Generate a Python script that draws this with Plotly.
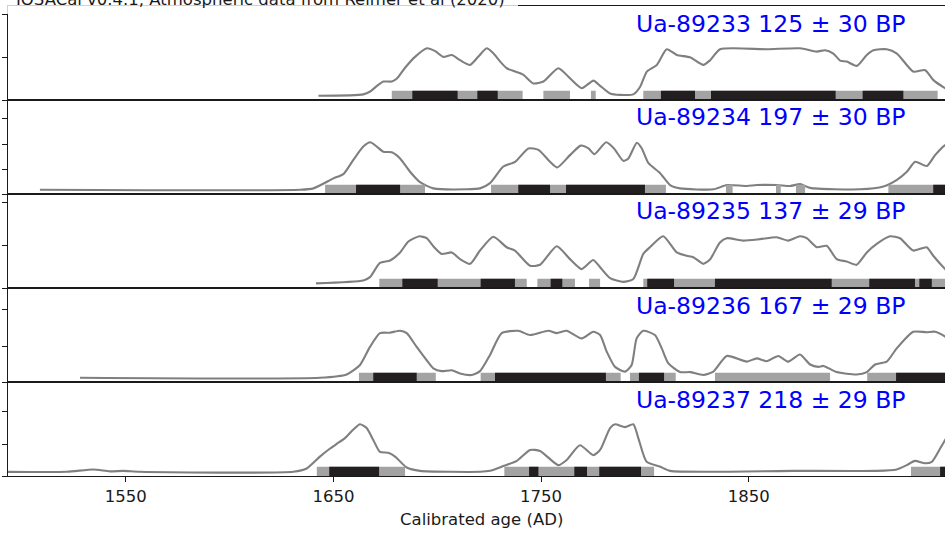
import plotly.graph_objects as go
from plotly.subplots import make_subplots

# ---------------- data ----------------
TITLE = "IOSACal v0.4.1, Atmospheric data from Reimer et al (2020)"
X_LABEL = "Calibrated age (AD)"
X_TICKS = [1550, 1650, 1750, 1850]

LABELS = [
    "Ua-89233 125 ± 30 BP",
    "Ua-89234 197 ± 30 BP",
    "Ua-89235 137 ± 29 BP",
    "Ua-89236 167 ± 29 BP",
    "Ua-89237 218 ± 29 BP",
]

# calibrated probability curves: (year AD, density as % of the peak)
S1_CURVE = [(1642.8, 0), (1664.4, 3), (1667.7, 9), (1671.0, 21), (1674.1, 30), (1678.1, 30),
            (1680.7, 37), (1684.5, 59), (1689.3, 82), (1695.0, 100), (1699.0, 94), (1702.9, 82),
            (1707.0, 86), (1711.0, 75), (1715.8, 65), (1719.7, 82), (1723.8, 100), (1726.9, 90),
            (1730.3, 72), (1733.5, 58), (1737.5, 51), (1741.5, 44), (1746.3, 26), (1751.1, 30),
            (1758.3, 58), (1763.9, 37), (1769.6, 16), (1775.2, 32), (1778.4, 21), (1783.2, 5),
            (1788.0, 2), (1794.4, 3), (1797.7, 19), (1800.9, 51), (1805.7, 65), (1810.5, 98),
            (1815.3, 86), (1821.7, 81), (1828.1, 65), (1831.4, 75), (1836.2, 98), (1858.7, 98),
            (1874.7, 100), (1882.7, 93), (1886.7, 96), (1890.7, 89), (1894.0, 74), (1897.2, 72),
            (1902.0, 63), (1906.8, 86), (1910.0, 96), (1916.4, 98), (1921.3, 89), (1929.2, 51),
            (1934.9, 54), (1938.9, 33), (1944.5, 16), (1949.0, 5)]
S2_CURVE = [(1508.7, 0), (1634.0, 0), (1640.4, 3), (1650.0, 24), (1654.8, 33), (1659.6, 63),
            (1664.4, 91), (1667.7, 100), (1670.9, 91), (1674.1, 80), (1678.1, 79), (1682.1, 66),
            (1686.9, 38), (1691.7, 16), (1698.1, 3), (1714.2, 1), (1720.6, 3), (1725.4, 14),
            (1731.8, 49), (1737.5, 59), (1743.9, 87), (1748.7, 84), (1754.3, 59), (1757.8, 47),
            (1763.9, 73), (1769.1, 93), (1772.8, 87), (1775.7, 75), (1781.3, 100), (1785.1, 87),
            (1789.6, 61), (1792.0, 66), (1796.1, 99), (1798.5, 87), (1801.7, 56), (1807.3, 35),
            (1812.1, 10), (1816.9, 3), (1833.0, 1), (1839.4, 10), (1849.0, 8), (1853.8, 10),
            (1863.5, 10), (1869.9, 8), (1874.7, 12), (1879.5, 4), (1903.6, 1), (1914.8, 7),
            (1921.3, 21), (1926.1, 38), (1930.1, 59), (1935.7, 50), (1939.7, 73), (1944.5, 94),
            (1949.0, 100)]
S3_CURVE = [(1641.6, 1), (1664.4, 7), (1667.6, 14), (1672.4, 44), (1677.3, 49), (1682.1, 66),
            (1686.1, 89), (1691.4, 100), (1694.9, 96), (1698.1, 79), (1702.1, 63), (1707.0, 66),
            (1711.0, 52), (1715.8, 42), (1720.6, 70), (1727.0, 99), (1733.4, 77), (1737.4, 70),
            (1744.7, 38), (1749.5, 40), (1757.5, 79), (1763.9, 52), (1769.5, 31), (1775.1, 50),
            (1778.4, 35), (1783.2, 12), (1789.6, 4), (1794.4, 10), (1799.2, 63), (1802.4, 77),
            (1808.8, 100), (1815.3, 66), (1820.1, 59), (1823.3, 56), (1828.1, 42), (1831.3, 51),
            (1836.1, 87), (1839.4, 96), (1847.3, 91), (1855.4, 94), (1863.4, 98), (1869.0, 91),
            (1874.6, 100), (1877.9, 96), (1882.7, 77), (1887.5, 80), (1892.3, 52), (1897.1, 47),
            (1901.9, 40), (1906.8, 66), (1911.6, 84), (1918.0, 100), (1922.8, 96), (1929.2, 70),
            (1935.6, 77), (1938.8, 59), (1944.5, 31), (1949.0, 12)]
S4_CURVE = [(1528.0, 0), (1643.5, 0), (1656.4, 7), (1662.8, 27), (1667.6, 65), (1672.4, 94),
            (1677.2, 95), (1682.1, 99), (1685.3, 94), (1690.1, 65), (1694.9, 37), (1698.1, 20),
            (1702.1, 14), (1707.0, 16), (1711.0, 9), (1716.6, 6), (1720.6, 14), (1725.4, 48),
            (1731.0, 94), (1739.0, 99), (1744.7, 90), (1753.5, 99), (1757.5, 94), (1762.3, 99),
            (1769.5, 83), (1775.1, 97), (1778.4, 90), (1781.6, 55), (1785.6, 23), (1790.4, 13),
            (1793.6, 27), (1796.0, 83), (1799.2, 99), (1804.8, 90), (1808.1, 62), (1811.2, 31),
            (1816.9, 12), (1821.7, 12), (1828.1, 6), (1832.9, 13), (1839.4, 46), (1849.0, 34),
            (1853.8, 41), (1858.6, 35), (1864.2, 46), (1869.0, 34), (1874.6, 49), (1879.5, 28),
            (1883.5, 23), (1885.9, 25), (1892.3, 12), (1901.9, 7), (1906.8, 12), (1910.8, 28),
            (1916.4, 34), (1921.2, 62), (1929.2, 97), (1935.6, 96), (1939.7, 97), (1944.5, 87),
            (1949.0, 72)]
S5_CURVE = [(1490.0, 0), (1521.6, 0), (1534.4, 5), (1542.4, 1), (1548.8, 2), (1556.9, 0),
            (1630.7, 0), (1637.1, 7), (1643.5, 32), (1648.4, 49), (1651.6, 59), (1655.6, 71),
            (1659.6, 89), (1662.8, 100), (1666.0, 92), (1669.2, 67), (1672.4, 42), (1676.4, 40),
            (1679.7, 32), (1685.3, 9), (1691.7, 2), (1720.6, 0), (1725.4, 2), (1731.8, 12),
            (1738.3, 23), (1744.7, 46), (1749.5, 44), (1758.3, 14), (1762.3, 25), (1768.7, 56),
            (1775.1, 35), (1778.4, 46), (1783.2, 92), (1785.6, 100), (1790.4, 94), (1794.4, 100),
            (1796.8, 71), (1800.8, 21), (1807.2, 11), (1812.1, 2), (1871.4, 2), (1911.6, 2),
            (1921.2, 5), (1926.0, 14), (1930.0, 23), (1934.8, 18), (1938.1, 21), (1942.1, 49),
            (1944.5, 67), (1949.0, 95)]

# 95 % (grey) and 68 % (black) probability ranges, AD
S1_CI95 = [(1678.1, 1741.1), (1751.1, 1763.9), (1774.0, 1776.3), (1799.2, 1940.9)]
S1_CI68 = [(1688.0, 1709.8), (1719.3, 1729.1), (1807.7, 1824.1), (1831.8, 1891.8), (1904.8, 1924.4)]
S2_CI95 = [(1646.0, 1694.1), (1725.9, 1810.1), (1839.0, 1842.2), (1863.1, 1865.4),
           (1872.7, 1877.1), (1917.2, 1950.0)]
S2_CI68 = [(1660.9, 1682.1), (1739.0, 1754.3), (1762.0, 1800.0), (1938.8, 1950.0)]
S3_CI95 = [(1672.1, 1743.1), (1748.2, 1766.3), (1773.1, 1778.4), (1799.2, 1950.0)]
S3_CI68 = [(1683.2, 1700.2), (1720.9, 1737.4), (1754.6, 1760.2), (1801.1, 1814.0),
           (1833.7, 1889.9), (1908.0, 1930.0), (1932.1, 1938.1)]
S4_CI95 = [(1662.3, 1699.3), (1720.9, 1788.3), (1792.8, 1814.8), (1833.7, 1889.1), (1907.0, 1950.0)]
S4_CI68 = [(1669.2, 1690.1), (1727.8, 1781.2), (1797.1, 1809.2), (1920.9, 1950.0)]
S5_CI95 = [(1642.0, 1684.5), (1732.3, 1804.4), (1928.1, 1950.0)]
S5_CI68 = [(1648.0, 1672.0), (1744.2, 1748.7), (1766.0, 1772.1), (1778.0, 1798.1), (1942.1, 1950.0)]

CURVES = [S1_CURVE, S2_CURVE, S3_CURVE, S4_CURVE, S5_CURVE]
CI95 = [S1_CI95, S2_CI95, S3_CI95, S4_CI95, S5_CI95]
CI68 = [S1_CI68, S2_CI68, S3_CI68, S4_CI68, S5_CI68]

# ---------------- layout / style ----------------
W, H = 945, 534
ML, MR, MT, MB = 8, 0, 6, 58
PLOT_W = W - ML - MR
PLOT_H = H - MT - MB
PANEL_PX = PLOT_H / 5.0
BASE_PX = 4.2       # curve baseline above the panel bottom (px)
PEAK_PX = 47.5      # curve peak above the baseline (px)
BAR_PX = 9.3        # height of the range bars (px)
TICK_PX = [[0, 43, 86], [0, 25, 50, 76], [0, 43, 86], [0, 36, 73], [0, 32, 65]]
X_RANGE = [1493.33, 1944.46]

FONT = "DejaVu Sans"
INK = "#1a1a1a"
CURVE_COL = "#7f7f7f"
GREY = "#a3a3a3"
BLACK = "#231f20"


def rel(h):
    return (h - BASE_PX) * 100.0 / PEAK_PX


Y_RANGE = [rel(0), rel(PANEL_PX)]
BAR_Y0, BAR_Y1 = rel(0), rel(BAR_PX)


def rects(ranges):
    xs, ys = [], []
    for a, b in ranges:
        xs += [a, b, b, a, a, None]
        ys += [BAR_Y0, BAR_Y0, BAR_Y1, BAR_Y1, BAR_Y0, None]
    return xs, ys


fig = make_subplots(rows=5, cols=1, shared_xaxes=True, vertical_spacing=0)

for i in range(5):
    r = i + 1
    xs = [p[0] for p in CURVES[i]]
    ys = [p[1] for p in CURVES[i]]
    fig.add_trace(go.Scatter(x=xs, y=ys, mode="lines",
                             line=dict(color=CURVE_COL, width=2.1, shape="spline", smoothing=0.6),
                             hoverinfo="skip"), row=r, col=1)
    bx, by = rects(CI95[i])
    fig.add_trace(go.Scatter(x=bx, y=by, mode="lines", fill="toself", fillcolor=GREY,
                             line=dict(width=0, color=GREY), hoverinfo="skip"), row=r, col=1)
    bx, by = rects(CI68[i])
    fig.add_trace(go.Scatter(x=bx, y=by, mode="lines", fill="toself", fillcolor=BLACK,
                             line=dict(width=0, color=BLACK), hoverinfo="skip"), row=r, col=1)

    fig.update_yaxes(row=r, col=1, range=Y_RANGE, tickvals=[rel(h) for h in TICK_PX[i]],
                     showticklabels=False, ticks="outside", ticklen=5, tickwidth=1.3,
                     tickcolor=INK, showline=True, linecolor=INK, linewidth=1.3,
                     showgrid=False, zeroline=False)
    fig.update_xaxes(row=r, col=1, range=X_RANGE, showline=True, mirror=True,
                     linecolor=INK, linewidth=1.3, showgrid=False, zeroline=False,
                     ticks="outside" if r == 5 else "", tickvals=X_TICKS,
                     ticktext=[str(t) for t in X_TICKS], ticklen=5, tickwidth=1.3,
                     tickcolor=INK, tickfont=dict(family=FONT, size=16.5, color=INK),
                     showticklabels=(r == 5))

    yref = "y domain" if r == 1 else f"y{r} domain"
    fig.add_annotation(text=LABELS[i], xref="paper", yref=yref,
                       x=(907 - ML) / PLOT_W, y=1 - 17.5 / PANEL_PX,
                       xanchor="right", yanchor="middle", showarrow=False,
                       font=dict(family=FONT, size=23.5, color="#0000ff"))

# semi-transparent box behind the (cropped) title
fig.add_shape(type="rect", xref="paper", yref="paper", layer="above",
              x0=-ML / PLOT_W, x1=(518 - ML) / PLOT_W,
              y0=(PLOT_H + MT - 14) / PLOT_H, y1=(PLOT_H + MT + 10) / PLOT_H,
              fillcolor="rgba(255,255,255,0.8)", line=dict(width=0))
fig.add_annotation(text=TITLE, xref="paper", yref="paper",
                   x=(507 - ML) / PLOT_W, y=(PLOT_H + MT + 0.7) / PLOT_H,
                   xanchor="right", yanchor="middle", showarrow=False,
                   font=dict(family=FONT, size=16.5, color=INK))
fig.add_annotation(text=X_LABEL, xref="paper", yref="paper",
                   x=(481.5 - ML) / PLOT_W, y=(PLOT_H + MT - 519) / PLOT_H,
                   xanchor="center", yanchor="middle", showarrow=False,
                   font=dict(family=FONT, size=16.5, color=INK))

fig.update_layout(width=W, height=H, margin=dict(l=ML, r=MR, t=MT, b=MB),
                  paper_bgcolor="white", plot_bgcolor="white", showlegend=False,
                  font=dict(family=FONT, color=INK))

fig.write_html("out.html", config={"displayModeBar": False},
               post_script="document.body.style.margin='0';"
                           "document.body.style.overflow='hidden';")
